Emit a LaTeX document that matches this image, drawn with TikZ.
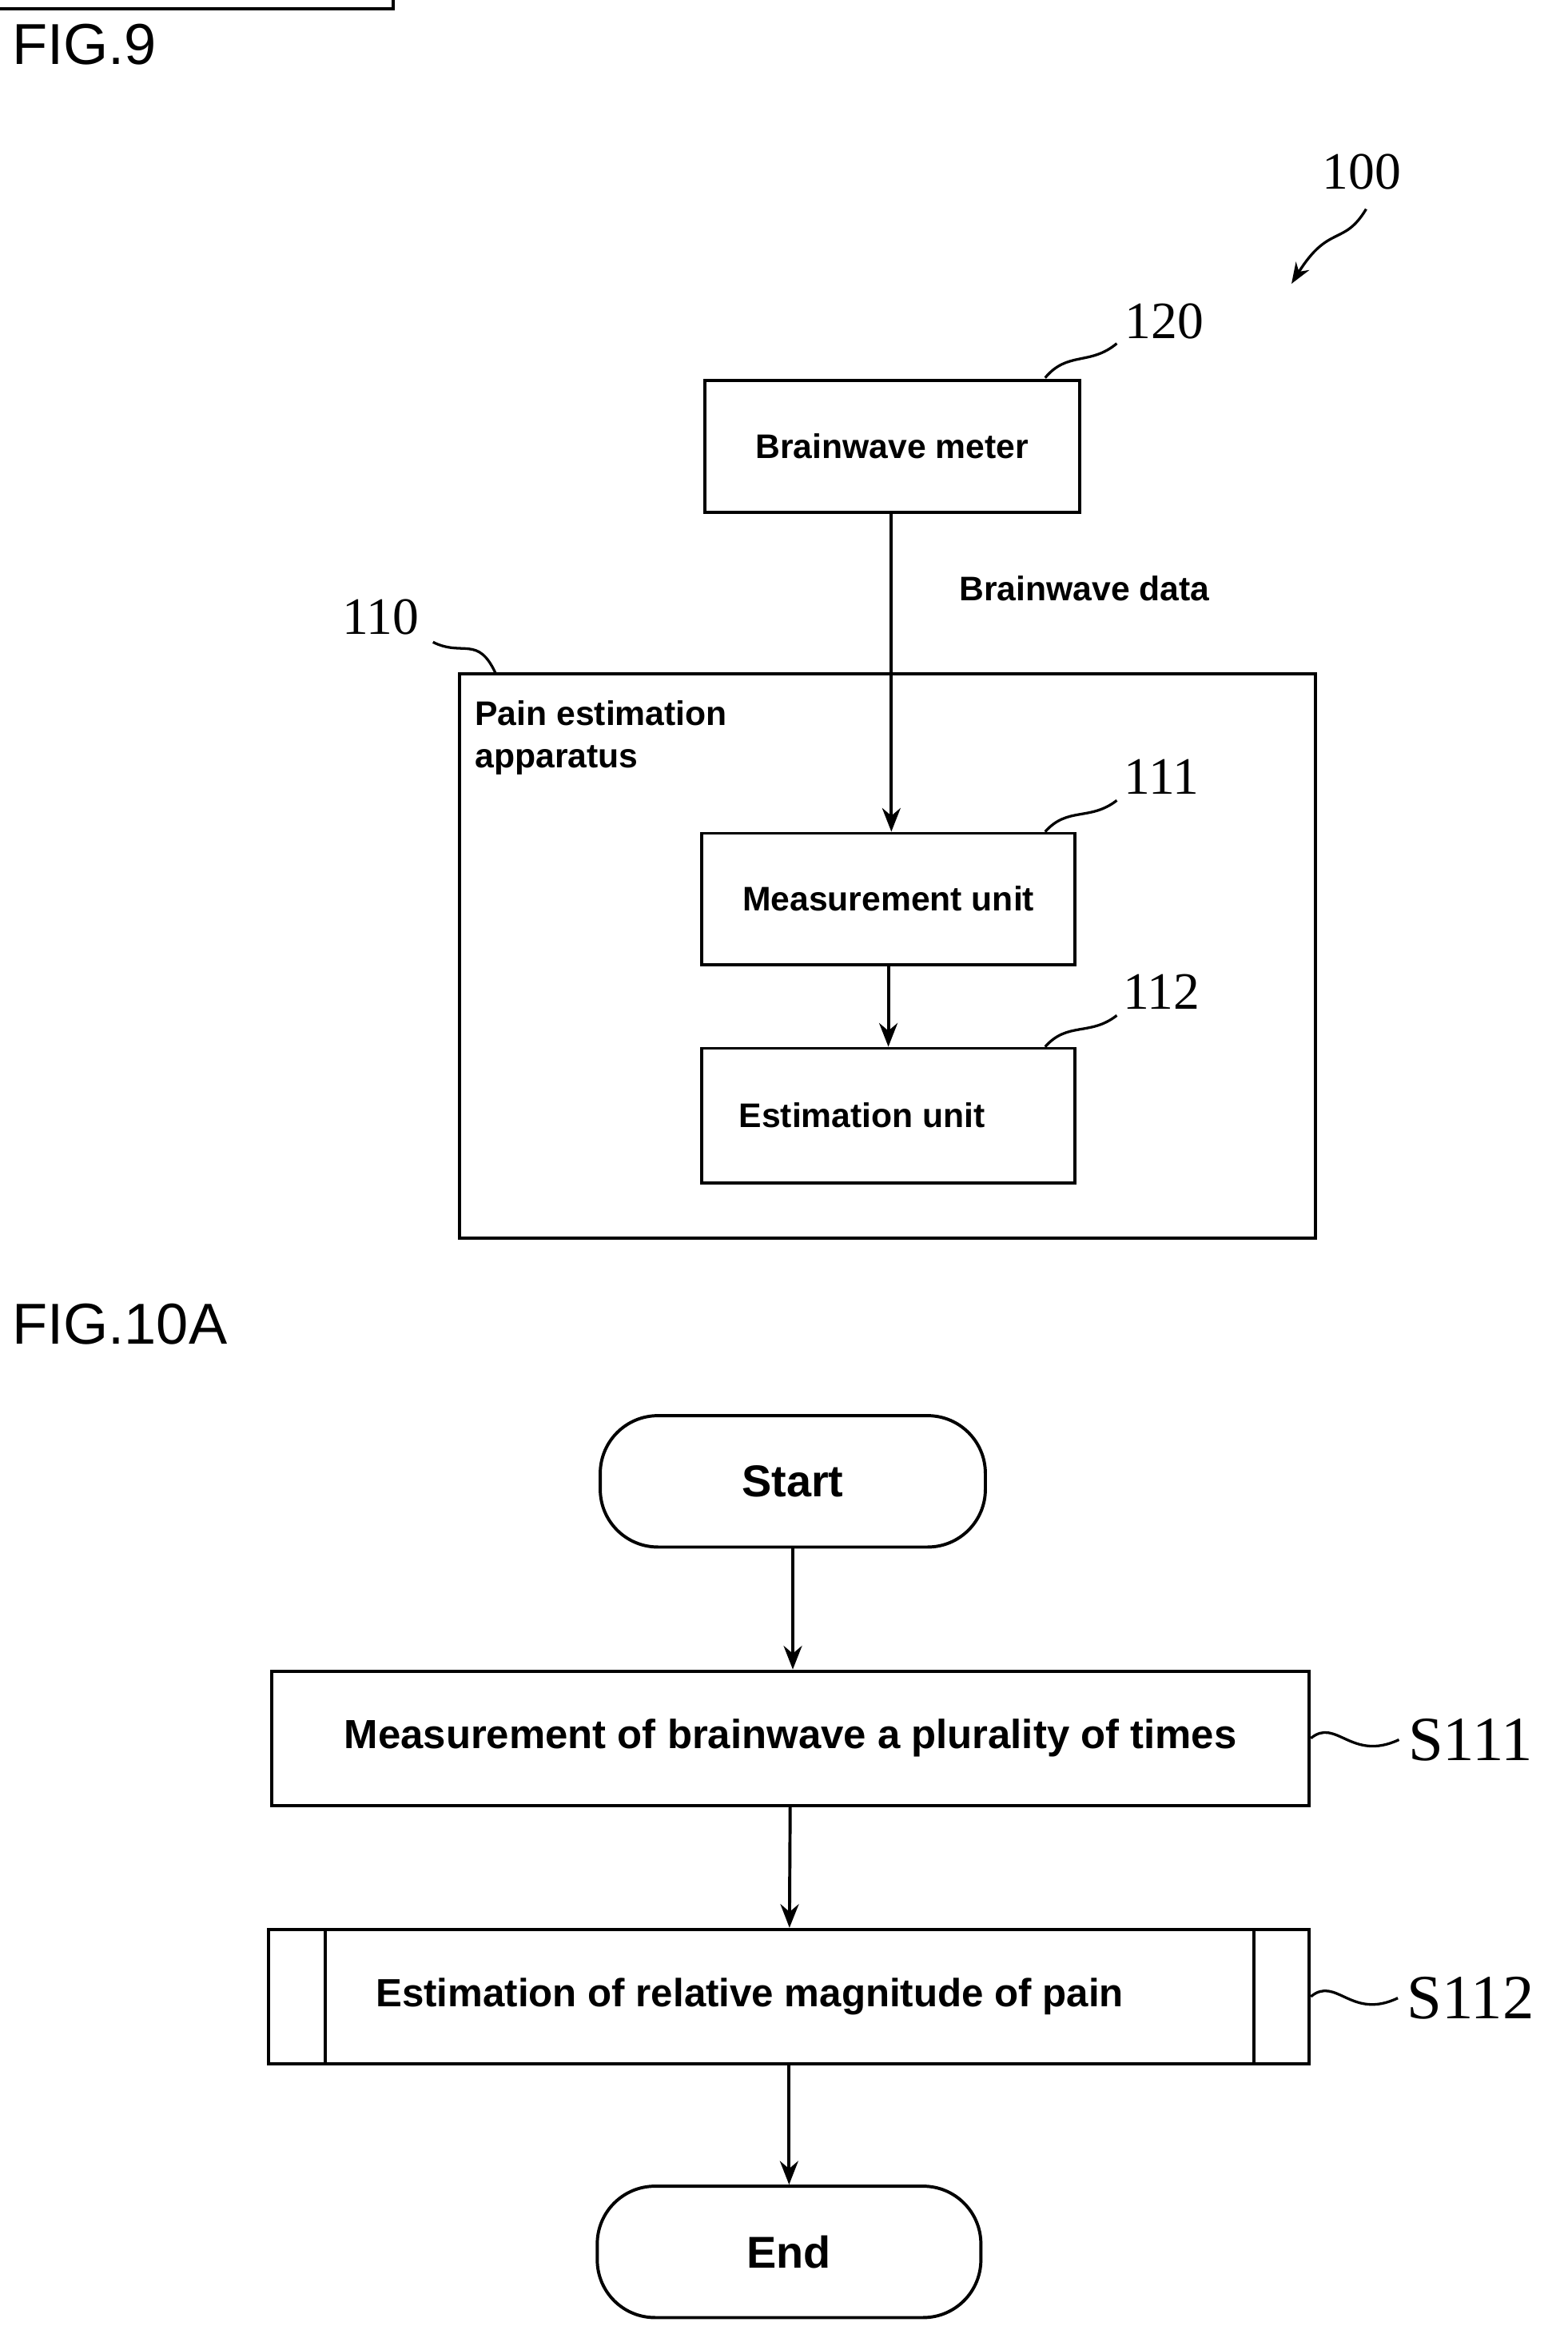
\documentclass[tikz,border=0pt]{standalone}
\usepackage{fontspec}
\setmainfont{Liberation Sans}
\newfontfamily\numfont{Liberation Serif}
\usetikzlibrary{arrows.meta}
\tikzset{
  blk/.style={draw, line width=1.2pt, font=\fontsize{13}{15}\selectfont\bfseries},
  term/.style={draw, line width=1.2pt, rounded corners=22pt, font=\fontsize{17}{19}\selectfont\bfseries},
  flow/.style={-{Stealth[length=9pt,width=7pt]}, line width=1.2pt},
  lead/.style={line width=1pt},
  num/.style={font=\numfont\fontsize{20}{22}\selectfont},
  fig/.style={font=\fontsize{22}{24}\selectfont, anchor=west}
}
\begin{document}
\begin{tikzpicture}[x=0.02cm, y=-0.02cm]
  \useasboundingbox (0,0) rectangle (1050,1563);

  % FIG.9
  \node[fig] (fig9) at (2,30) {FIG.9};
  \node[num] (n100) at (912,115) {100};
  \draw[lead, -{Stealth[length=8pt]}] (915,140) .. controls (900,165) and (890,150) .. (865,190);

  \draw[blk] (472,255) rectangle (723,343) node[pos=0.5, draw=none] (meter) {};
  \node[font=\fontsize{13}{15}\selectfont\bfseries] at (meter) {Brainwave meter};
  \node[num] (n120) at (780,215) {120};
  \draw[lead] (700,253) .. controls (715,235) and (730,245) .. (748,230);

  \draw[blk] (308,451) rectangle (881,829);
  \node[font=\fontsize{13}{16}\selectfont\bfseries, anchor=north west, align=left] (app) at (312,463) {Pain estimation\\apparatus};
  \node[num] (n110) at (255,413) {110};
  \draw[lead] (290,430) .. controls (310,440) and (320,425) .. (332,451);

  \node[blk, minimum width=250\pgflinewidth, text width=0pt] at (0,0) {};
  \node[blk, minimum width=5cm, minimum height=1.76cm] (meas) at (595,602) {Measurement unit};
  \node[num] (n111) at (778,520) {111};
  \draw[lead] (700,557) .. controls (715,540) and (730,550) .. (748,536);

  \node[blk, minimum width=5cm, minimum height=1.8cm] (est) at (595,747) {\hspace*{-20pt}Estimation unit};
  \node[num] (n112) at (778,664) {112};
  \draw[lead] (700,701) .. controls (715,684) and (730,694) .. (748,680);

  \coordinate (dtop) at (597,343);
  \draw[flow] (dtop) -- (meas.north -| dtop) node[pos=0.24, right=22pt, font=\fontsize{13}{15}\selectfont\bfseries] {Brainwave data};
  \draw[flow] (meas) -- (est);

  % FIG.10A
  \node[fig] (fig10) at (2,887) {FIG.10A};

  \node[term, minimum width=5.16cm, minimum height=1.76cm] (start) at (531,992) {Start};
  \node[blk, font=\fontsize{15.5}{18}\selectfont\bfseries, minimum width=13.9cm, minimum height=1.8cm] (s111) at (529.5,1164) {Measurement of brainwave a plurality of times};
  \node[blk, font=\fontsize{15}{18}\selectfont\bfseries, minimum width=13.94cm, minimum height=1.8cm] (s112) at (528.5,1337) {\hspace*{-30pt}Estimation of relative magnitude of pain};
  \draw[line width=1.2pt] (218,1292) -- (218,1382) (840,1292) -- (840,1382);
  \node[term, minimum width=5.14cm, minimum height=1.76cm] (end) at (528.5,1508) {End};

  \node[num, font=\numfont\fontsize{24}{26}\selectfont] (l111) at (985,1165) {S111};
  \node[num, font=\numfont\fontsize{24}{26}\selectfont] (l112) at (985,1338) {S112};
  \draw[lead] (s111.east) .. controls (895,1150) and (905,1180) .. (l111.west);
  \draw[lead] (s112.east) .. controls (895,1323) and (905,1353) .. (l112.west);

  \draw[flow] (start) -- (start |- s111.north);
  \draw[flow] (s111) -- (s112);
  \draw[flow] (s112) -- (end);
\end{tikzpicture}
\end{document}
